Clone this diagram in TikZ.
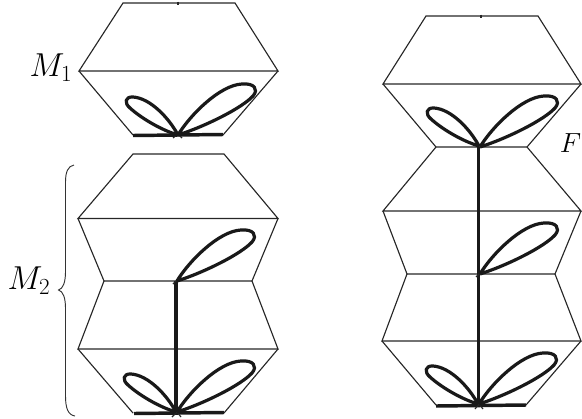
\documentclass[tikz,border=0pt]{standalone}
\tikzset{
  thinline/.style={line width=0.85pt,line join=miter,color=black!85},
  thickline/.style={line width=2.6pt,color=black!90},
  petal/.style={line width=2.4pt,color=black!90,line join=round},
  lab/.style={inner sep=0pt,font=\fontsize{23}{27}\selectfont},
  flab/.style={inner sep=0pt,font=\fontsize{21}{25}\selectfont},
  bracel/.style={line width=0.7pt,color=black!80}
}
% left petal at vertex (#1,#2)
\newcommand{\lpetal}[2]{\begin{scope}[shift={(#1,#2)}]\draw[petal] (0,0) .. controls (-9,-17) and (-28,-37) .. (-45,-38) .. controls (-53,-38.5) and (-54,-32) .. (-48,-27) .. controls (-37,-17) and (-17,-5) .. (0,0);\end{scope}}
% right petal at vertex (#1,#2)
\newcommand{\rpetal}[2]{\begin{scope}[shift={(#1,#2)}]\draw[petal] (0,0) .. controls (12,-20) and (42,-50) .. (64,-51) .. controls (76,-52) and (81,-46) .. (75,-39) .. controls (64,-27) and (28,-9) .. (0,0);\end{scope}}
\begin{document}
\begin{tikzpicture}[x=0.75pt,y=-0.75pt]
\useasboundingbox (0,0) rectangle (582,418);
% M1
\draw[thinline] (79,71) -- (123,3) -- (235,3) -- (278,71) -- cycle;
\draw[thinline] (178,1.5) -- (178,5);
\draw[thinline] (79,71) -- (133,135);
\draw[thinline] (278,71) -- (223,135);
\draw[thickline] (133,135.5) -- (223,134.5);
\draw[thinline] (173,138) -- (178,134) -- (182,138);
\lpetal{178}{135}
\rpetal{178}{135}
\node[lab] (m1) at (51,68) {$M_1$};
% M2
\draw[thinline] (78,218.5) -- (133,154) -- (224,154) -- (278,218.5) -- cycle;
\draw[thinline] (78,218.5) -- (104,281) -- (252,281) -- (278,218.5);
\draw[thinline] (104,281) -- (78,349) -- (278,349) -- (252,281);
\draw[thinline] (78,349) -- (133,413);
\draw[thinline] (278,349) -- (224,413);
\draw[thickline] (134,413.5) -- (224,412.5);
\draw[thickline] (176,281) -- (176,412);
\draw[thinline] (173,284) -- (177,280);
\draw[thinline] (172,417) -- (177,412) -- (181,417);
\rpetal{177}{281}
\lpetal{176}{412}
\rpetal{177}{412}
\node[lab] (m2) at (29,281) {$M_2$};
\draw[bracel] (74,165) .. controls (68,166) and (65.5,172) .. (65.5,182) -- (65.5,272) .. controls (65.5,282) and (63,289) .. (58.5,290) .. controls (63,291) and (65.5,298) .. (65.5,308) -- (65.5,396) .. controls (65.5,408) and (68,415) .. (75,416);
% Right column
\draw[thinline] (383,84) -- (426,16) -- (538,16) -- (581,84) -- cycle;
\draw[thinline] (481,14.5) -- (481,18);
\draw[thinline] (383,84) -- (436,147) -- (527,147) -- (581,84);
\draw[thinline] (436,147) -- (383,211) -- (581,211) -- (527,147);
\draw[thinline] (383,211) -- (407,274) -- (555,274) -- (581,211);
\draw[thinline] (407,274) -- (382,341) -- (581,341) -- (555,274);
\draw[thinline] (382,341) -- (436,405);
\draw[thinline] (581,341) -- (526,405);
\draw[thickline] (436,406) -- (526,405);
\draw[thickline] (478.5,147) -- (478.5,405);
\draw[thinline] (476,277) -- (480,273);
\draw[thinline] (475,409) -- (479,404) -- (483,409);
\lpetal{479}{146}
\rpetal{480}{147}
\rpetal{480}{274}
\lpetal{478}{404}
\rpetal{479}{404}
\node[flab,anchor=east] (f) at (581.5,143) {$F$};
\end{tikzpicture}
\end{document}
